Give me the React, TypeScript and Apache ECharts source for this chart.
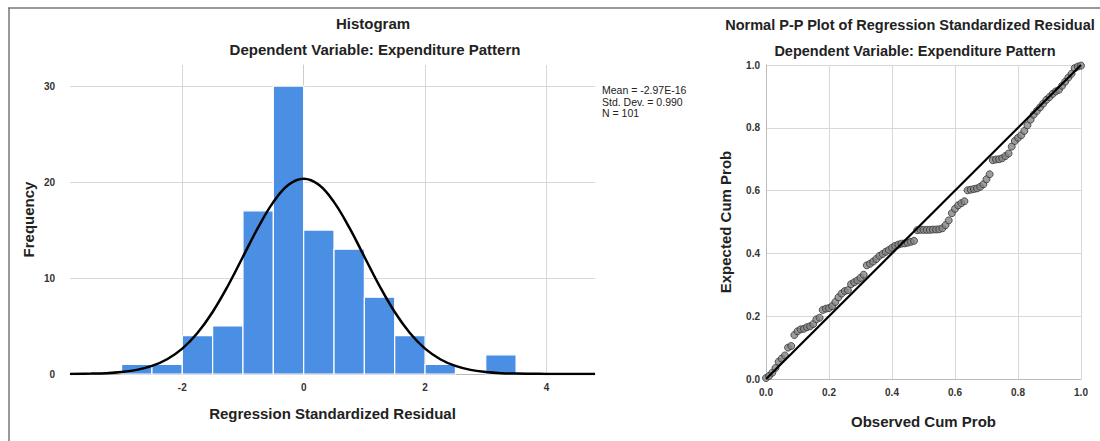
import React, { useEffect, useRef } from "react";
import * as echarts from "echarts";

// ---------- Histogram data ----------
const binStarts = [-3, -2.5, -2, -1.5, -1, -0.5, 0, 0.5, 1, 1.5, 2, 2.5, 3];
const binCounts = [1, 1, 4, 5, 17, 30, 15, 13, 8, 4, 1, 0, 2];
const binWidth = 0.5;

// normal curve
const curveX = [-3.85, -3.5, -3.25, -3, -2.75, -2.5, -2.25, -2, -1.75, -1.5, -1.25, -1, -0.75, -0.5, -0.25, 0,
  0.25, 0.5, 0.75, 1, 1.25, 1.5, 1.75, 2, 2.25, 2.5, 2.75, 3, 3.25, 3.5, 3.75, 4, 4.4, 4.8];
const curveY = [0.01, 0.04, 0.09, 0.21, 0.43, 0.84, 1.54, 2.64, 4.27, 6.46, 9.17, 12.22, 15.27, 17.91, 19.71, 20.35,
  19.71, 17.91, 15.27, 12.22, 9.17, 6.46, 4.27, 2.64, 1.54, 0.84, 0.43, 0.21, 0.09, 0.04, 0.02, 0.01, 0, 0];

const histXTicks = [-2, 0, 2, 4];
const histYTicks = [0, 10, 20, 30];
const statsLines = ["Mean = -2.97E-16", "Std. Dev. = 0.990", "N = 101"];

// ---------- P-P plot data ----------
const ppObserved = [
  0.00, 0.01, 0.02, 0.03, 0.04, 0.05, 0.06, 0.07, 0.08, 0.09,
  0.10, 0.11, 0.12, 0.13, 0.14, 0.15, 0.16, 0.17, 0.18, 0.19,
  0.20, 0.21, 0.22, 0.23, 0.24, 0.25, 0.26, 0.27, 0.28, 0.29,
  0.30, 0.31, 0.32, 0.33, 0.34, 0.35, 0.36, 0.37, 0.38, 0.39,
  0.40, 0.41, 0.42, 0.43, 0.44, 0.45, 0.46, 0.47, 0.48, 0.49,
  0.50, 0.51, 0.52, 0.53, 0.54, 0.55, 0.56, 0.57, 0.58, 0.59,
  0.60, 0.61, 0.62, 0.63, 0.64, 0.65, 0.66, 0.67, 0.68, 0.69,
  0.70, 0.71, 0.72, 0.73, 0.74, 0.75, 0.76, 0.77, 0.78, 0.79,
  0.80, 0.81, 0.82, 0.83, 0.84, 0.85, 0.86, 0.87, 0.88, 0.89,
  0.90, 0.91, 0.92, 0.93, 0.94, 0.95, 0.96, 0.97, 0.98, 0.99, 1.00,
];
const ppExpected = [
  0.003, 0.010, 0.020, 0.035, 0.055, 0.065, 0.075, 0.100, 0.105, 0.140,
  0.152, 0.158, 0.160, 0.165, 0.168, 0.175, 0.190, 0.195, 0.220, 0.224,
  0.226, 0.232, 0.245, 0.260, 0.272, 0.280, 0.283, 0.302, 0.308, 0.314,
  0.322, 0.332, 0.362, 0.367, 0.374, 0.382, 0.392, 0.398, 0.405, 0.411,
  0.418, 0.424, 0.428, 0.431, 0.432, 0.434, 0.437, 0.440, 0.474, 0.475,
  0.475, 0.475, 0.475, 0.476, 0.476, 0.477, 0.480, 0.490, 0.505, 0.528,
  0.542, 0.553, 0.560, 0.566, 0.601, 0.603, 0.605, 0.607, 0.612, 0.620,
  0.636, 0.652, 0.697, 0.699, 0.700, 0.703, 0.710, 0.718, 0.740, 0.758,
  0.768, 0.776, 0.790, 0.808, 0.826, 0.842, 0.854, 0.865, 0.877, 0.889,
  0.898, 0.908, 0.916, 0.921, 0.934, 0.947, 0.960, 0.972, 0.990, 0.995, 0.998,
];
const refLine = [[0, 0], [1, 1]];

const FONT = "Liberation Sans, Arial, sans-serif";
const GRID_COLOR = "#d8d8d8";
const LABEL_COLOR = "#333";

export default function App() {
  const ref = useRef<HTMLDivElement>(null);

  useEffect(() => {
    document.body.style.margin = "0";
    if (!ref.current) return;
    const chart = echarts.init(ref.current, undefined, { renderer: "svg" });

    const barData = binStarts.map((s, i) => [s, s + binWidth, binCounts[i]]);
    const curveData = curveX.map((x, i) => [x, curveY[i]]);
    const ppData = ppObserved.map((x, i) => [x, ppExpected[i]]);

    const axisLabelStyle = {
      color: LABEL_COLOR,
      fontSize: 10,
      fontWeight: "bold" as const,
      fontFamily: FONT,
    };
    const nameStyle = {
      color: "#222",
      fontSize: 15,
      fontWeight: "bold" as const,
      fontFamily: FONT,
    };

    const option: any = {
      animation: false,
      backgroundColor: "#fff",
      grid: [
        { left: 70, right: 505, top: 65, bottom: 67, containLabel: false },
        { left: 766, right: 19, top: 65, bottom: 62, containLabel: false },
      ],
      xAxis: [
        {
          type: "value",
          gridIndex: 0,
          min: -3.85,
          max: 4.8,
          name: "Regression Standardized Residual",
          nameLocation: "middle",
          nameGap: 32,
          nameTextStyle: nameStyle,
          axisLine: { show: true, lineStyle: { color: "#bbb", width: 1 } },
          axisTick: { show: false, customValues: histXTicks },
          axisLabel: { ...axisLabelStyle, margin: 8, customValues: histXTicks },
          splitLine: { show: true, lineStyle: { color: GRID_COLOR, width: 1 } },
        },
        {
          type: "value",
          gridIndex: 1,
          min: 0,
          max: 1,
          interval: 0.2,
          name: "Observed Cum Prob",
          nameLocation: "middle",
          nameGap: 35,
          nameTextStyle: nameStyle,
          axisLine: { show: true, lineStyle: { color: "#bbb", width: 1 } },
          axisTick: { show: false },
          axisLabel: { ...axisLabelStyle, margin: 8, formatter: (v: number) => v.toFixed(1) },
          splitLine: { show: true, lineStyle: { color: GRID_COLOR, width: 1 } },
        },
      ],
      yAxis: [
        {
          type: "value",
          gridIndex: 0,
          min: 0,
          max: 32.2,
          name: "Frequency",
          nameLocation: "middle",
          nameGap: 34,
          nameRotate: 90,
          nameTextStyle: nameStyle,
          axisLine: { show: true, lineStyle: { color: "#ccc", width: 1 } },
          axisTick: { show: false, customValues: histYTicks },
          axisLabel: { ...axisLabelStyle, margin: 15, customValues: histYTicks },
          splitLine: { show: true, lineStyle: { color: GRID_COLOR, width: 1 } },
        },
        {
          type: "value",
          gridIndex: 1,
          min: 0,
          max: 1,
          interval: 0.2,
          name: "Expected Cum Prob",
          nameLocation: "middle",
          nameGap: 33,
          nameRotate: 90,
          nameTextStyle: nameStyle,
          axisLine: { show: true, lineStyle: { color: "#bbb", width: 1 } },
          axisTick: { show: false },
          axisLabel: { ...axisLabelStyle, margin: 6, formatter: (v: number) => v.toFixed(1) },
          splitLine: { show: true, lineStyle: { color: GRID_COLOR, width: 1 } },
        },
      ],
      series: [
        {
          type: "custom",
          xAxisIndex: 0,
          yAxisIndex: 0,
          data: barData,
          encode: { x: [0, 1], y: 2 },
          renderItem: (_p: any, api: any) => {
            const x0 = api.value(0);
            const x1 = api.value(1);
            const c = api.value(2);
            if (!c) return null;
            const a = api.coord([x0, c]);
            const b = api.coord([x1, 0]);
            return {
              type: "rect",
              shape: { x: a[0], y: a[1], width: b[0] - a[0], height: b[1] - a[1] },
              style: { fill: "#4a8fe3", stroke: "#ffffff", lineWidth: 1.2 },
            };
          },
          z: 2,
        },
        {
          type: "line",
          xAxisIndex: 0,
          yAxisIndex: 0,
          data: curveData,
          smooth: 0.4,
          symbol: "none",
          lineStyle: { color: "#000", width: 2.5 },
          z: 3,
        },
        {
          type: "scatter",
          xAxisIndex: 1,
          yAxisIndex: 1,
          data: ppData,
          symbol: "circle",
          symbolSize: 7,
          itemStyle: { color: "#858585", borderColor: "#333", borderWidth: 1 },
          z: 2,
        },
        {
          type: "line",
          xAxisIndex: 1,
          yAxisIndex: 1,
          data: refLine,
          symbol: "none",
          lineStyle: { color: "#000", width: 2.2 },
          z: 3,
        },
      ],
      graphic: [
        { type: "line", shape: { x1: 8, y1: 8, x2: 1100, y2: 8 }, style: { stroke: "#777", lineWidth: 1.5 } },
        { type: "line", shape: { x1: 9, y1: 8, x2: 9, y2: 441 }, style: { stroke: "#777", lineWidth: 1.5 } },
        {
          type: "text", x: 373, y: 23,
          style: { text: "Histogram", fill: "#222", font: `bold 15px ${FONT}`, textAlign: "center", textVerticalAlign: "middle" },
        },
        {
          type: "text", x: 375, y: 49,
          style: { text: "Dependent Variable: Expenditure Pattern", fill: "#222", font: `bold 15px ${FONT}`, textAlign: "center", textVerticalAlign: "middle" },
        },
        ...statsLines.map((t, i) => ({
          type: "text", x: 602, y: 90 + i * 11.5,
          style: { text: t, fill: "#222", font: `10.5px ${FONT}`, textAlign: "left", textVerticalAlign: "middle" },
        })),
        {
          type: "text", x: 910, y: 25,
          style: { text: "Normal P-P Plot of Regression Standardized Residual", fill: "#222", font: `bold 14.5px ${FONT}`, textAlign: "center", textVerticalAlign: "middle" },
        },
        {
          type: "text", x: 915, y: 51,
          style: { text: "Dependent Variable: Expenditure Pattern", fill: "#222", font: `bold 14.5px ${FONT}`, textAlign: "center", textVerticalAlign: "middle" },
        },
      ],
    };

    chart.setOption(option);
    return () => chart.dispose();
  }, []);

  return <div ref={ref} style={{ width: 1100, height: 441 }} />;
}
